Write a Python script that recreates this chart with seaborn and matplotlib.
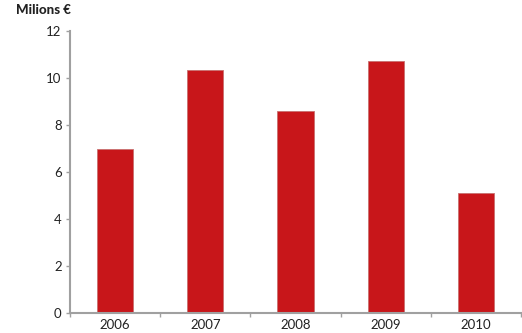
import matplotlib
matplotlib.use("Agg")
import matplotlib.pyplot as plt
import seaborn as sns
import pandas as pd
from matplotlib.ticker import FixedLocator

years = ["2006", "2007", "2008", "2009", "2010"]
values = [6.96, 10.34, 8.58, 10.73, 5.08]
y_ticks = [0, 2, 4, 6, 8, 10, 12]
unit_label = "Milions €"

sns.set_theme(style="white")
plt.rcParams['font.family'] = ['Lato', 'DejaVu Sans']

df = pd.DataFrame({"year": years, "value": values})

fig = plt.figure(figsize=(5.22, 3.33), dpi=100)
ax = fig.add_axes([70/522, 1-312.5/333, (521-70)/522, (312.5-31)/333])

sns.barplot(data=df, x="year", y="value", color="#C8161A", width=0.4,
            saturation=1, edgecolor="#C87070", linewidth=0.6, ax=ax)

ax.set_xlim(-0.5, 4.5)
ax.set_ylim(0, 12)
ax.set_yticks(y_ticks)
ax.set_yticklabels([str(t) for t in y_ticks])
ax.set_xlabel("")
ax.set_ylabel("")

ax.xaxis.set_minor_locator(FixedLocator([i - 0.5 for i in range(len(years) + 1)]))
ax.tick_params(axis="x", which="major", length=0, pad=5, labelsize=9.5, labelcolor="#222222")
ax.tick_params(axis="x", which="minor", length=3, width=1, color="#A0A0A0", direction="out", bottom=True)
ax.tick_params(axis="y", which="major", length=3, width=1, color="#A0A0A0", direction="out", left=True,
               labelsize=9.5, labelcolor="#222222", pad=3)

for s in ["top", "right"]:
    ax.spines[s].set_visible(False)
for s in ["left", "bottom"]:
    ax.spines[s].set_color("#A0A0A0")
    ax.spines[s].set_linewidth(1.5)

fig.text(16/522, 1-10/333, unit_label, fontsize=9.5, fontweight="black", color="#222222",
         ha="left", va="center")

fig.savefig("out.png", dpi=100)
